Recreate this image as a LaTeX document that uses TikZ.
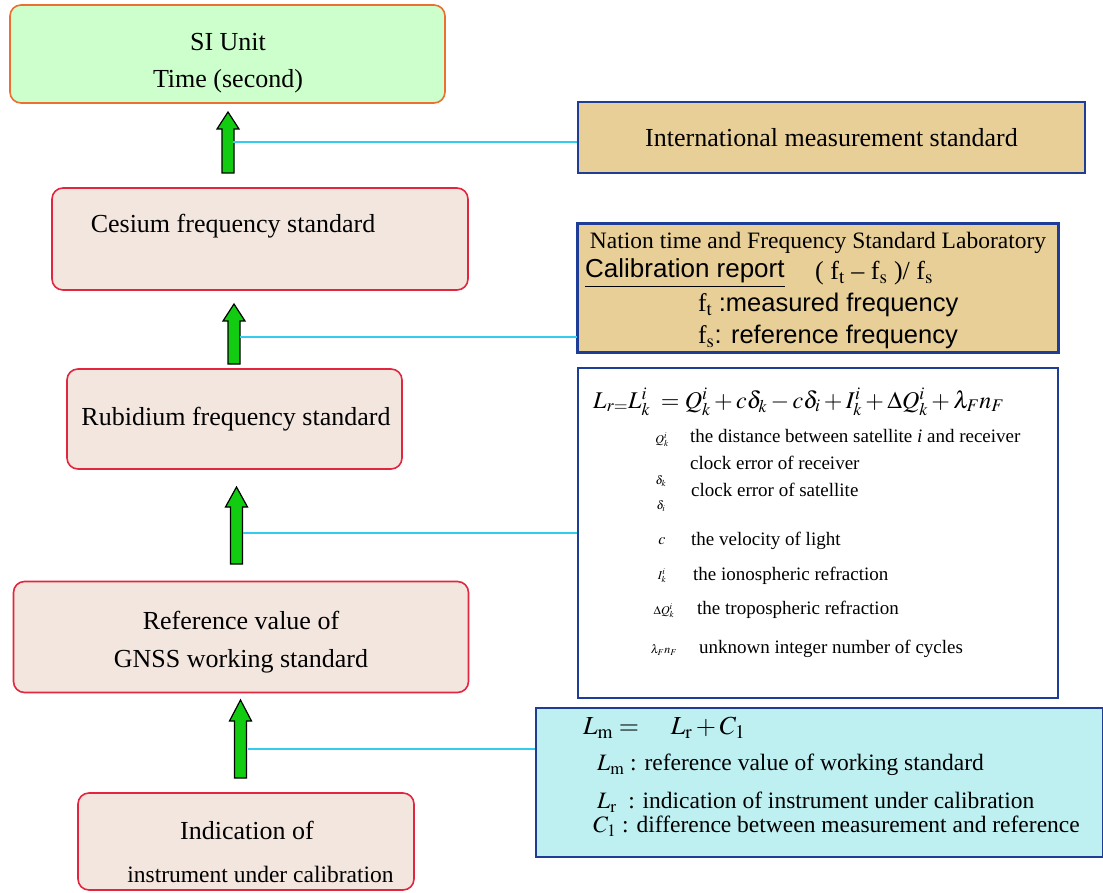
\documentclass[tikz,border=0pt]{standalone}
\usepackage{mathptmx}
\usepackage{fontspec}
\setmainfont{Liberation Serif}
\newfontfamily\arialf{Liberation Sans}
\usetikzlibrary{calc}
\definecolor{sigreen}{HTML}{CCFFCC}
\definecolor{siorange}{HTML}{E9702E}
\definecolor{boxfill}{HTML}{F3E6DF}
\definecolor{boxred}{HTML}{E3263F}
\definecolor{tanfill}{HTML}{E8CF97}
\definecolor{darkblue}{HTML}{1E3D96}
\definecolor{cyanfill}{HTML}{BEF0F2}
\definecolor{linkcyan}{HTML}{33CCEE}
\definecolor{arrgreen}{HTML}{11CC11}
\newcommand{\fs}[1]{\fontsize{#1}{#1}\selectfont}
\begin{document}
\begin{tikzpicture}[x=1pt,y=-1pt,
  stdbox/.style={draw=boxred, line width=1.6pt, fill=boxfill, rounded corners=11pt, inner sep=0pt},
  sibox/.style={draw=siorange, line width=1.6pt, fill=sigreen, rounded corners=11pt, inner sep=0pt},
  infobox/.style={draw=darkblue, line width=1.8pt, inner sep=0pt},
  lbl/.style={inner sep=0pt, anchor=center, font=\fs{26}},
  link/.style={draw=linkcyan, line width=1.3pt},
  garrow/.style={draw=black, line width=1.2pt, fill=arrgreen, line join=miter},
  txt/.style={inner sep=0pt, anchor=west},
  legsym/.style={inner sep=0pt, anchor=center, font=\fs{12}},
  legtxt/.style={inner sep=0pt, anchor=west, font=\fs{19}}
]
\useasboundingbox (0,0) rectangle (1103,893);

% left column boxes
\node[sibox, minimum width=435pt, minimum height=98pt] (si) at (227.5,54) {};
\node[lbl] (si1) at (228,42) {SI Unit};
\node[lbl] (si2) at (228,81) {Time (second)};
\node[stdbox, minimum width=416pt, minimum height=102pt] (cs) at (260,239) {};
\node[lbl] (cst) at (233,226) {Cesium frequency standard};
\node[stdbox, minimum width=335pt, minimum height=100pt] (rb) at (234.5,419) {};
\node[lbl] (rbt) at (236,419) {Rubidium frequency standard};
\node[stdbox, minimum width=455pt, minimum height=111pt] (gn) at (241,637) {};
\node[lbl] (gn1) at (241,620) {Reference value of};
\node[lbl] (gn2) at (241,661) {GNSS working standard};
\node[stdbox, minimum width=336pt, minimum height=97pt] (ind) at (246,841.5) {};
\node[lbl] (ind1) at (247,830) {Indication of};
\node[lbl, font=\fs{23.5}] (ind2) at (260.5,874) {instrument under calibration};

% right column boxes
\node[infobox, fill=tanfill, minimum width=507pt, minimum height=71pt, font=\fs{26}] (intl) at (831.5,137.5) {International measurement standard};

\node[infobox, fill=tanfill, minimum width=480pt, minimum height=128pt] (lab) at (818,288) {};
\begin{scope}
\clip (lab.south west) rectangle (lab.north east);
\node[inner sep=0pt, font=\fs{23.5}] (labt) at (818,243) {Nation time and Frequency Standard Laboratory};
\node[txt, font=\arialf\fs{26}] (calr) at (585,273) {\underline{Calibration report}};
\node[txt, font=\fs{26}] (calf) at (815,273) {( f$_\mathrm{t}$ -- f$_\mathrm{s}$ )/ f$_\mathrm{s}$};
\node[txt, font=\fs{25.5}] (ft) at (698,305) {f$_\mathrm{t}$ \arialf :measured frequency};
\node[txt, font=\fs{25.5}] (fsr) at (698,337) {f$_\mathrm{s}$\arialf : reference frequency};
\end{scope}
\draw[darkblue, line width=1.8pt] (lab.south west) rectangle (lab.north east);

\node[infobox, fill=white, minimum width=480pt, minimum height=330pt] (gnss) at (818,533) {};
\node[txt, font=\fs{24}] (eq) at (593,402) {$L_{r=}L_k^i \;=Q_k^i+c\delta_k-c\delta_i+I_k^i+\Delta Q_k^i+\lambda_F n_F$};
\node[legsym] (s1) at (662,440) {$Q_k^i$};
\node[legtxt] (t1) at (690,436) {the distance between satellite \textit{i} and receiver};
\node[legtxt] (t2) at (690,463) {clock error of receiver};
\node[legsym] (s2) at (661,481) {$\delta_k$};
\node[legtxt] (t3) at (691,490) {clock error of satellite};
\node[legsym] (s3) at (661,506) {$\delta_i$};
\node[legsym, font=\fs{16}] (s4) at (662,541) {$c$};
\node[legtxt] (t4) at (691,541) {the velocity of light};
\node[legsym] (s5) at (662,576) {$I_k^i$};
\node[legtxt] (t5) at (693,576) {the ionospheric refraction};
\node[legsym] (s6) at (664,611) {$\Delta Q_k^i$};
\node[legtxt] (t6) at (697,610) {the tropospheric refraction};
\node[legsym] (s7) at (664,650) {$\lambda_F n_F$};
\node[legtxt] (t7) at (699,649) {unknown integer number of cycles};

\node[infobox, fill=cyanfill, minimum width=567pt, minimum height=149pt] (cal) at (819.5,782.5) {};
\node[txt, font=\fs{26}] (lm) at (583,728) {$L_\mathrm{m} = \quad L_\mathrm{r} + C_1$};
\node[txt, font=\fs{23.5}] (l1) at (597,765) {$L_\mathrm{m}$ : reference value of working standard};
\node[txt, font=\fs{23.5}] (l2) at (597,802) {$L_\mathrm{r}$ \ : indication of instrument under calibration};
\node[txt, font=\fs{23.5}] (l3) at (593,826) {$C_1$ : difference between measurement and reference};

% green block arrows
\newcommand{\gar}[5]{% cx, tip, base, bottom, name
  \coordinate (#5) at (#1,#2);
  \filldraw[garrow] (#1,#2) -- (#1+11,#3) -- (#1+6,#3) -- (#1+6,#4) -- (#1-6,#4) -- (#1-6,#3) -- (#1-11,#3) -- cycle;
}
\gar{228}{112}{129}{173}{a1}
\gar{234}{304}{321}{364}{a2}
\gar{236.5}{487}{507}{564}{a3}
\gar{240.5}{700}{721}{778}{a4}

% cyan links
\coordinate (c1) at ($(a1)+(5,30)$);
\coordinate (c2) at ($(a2)+(6,33)$);
\coordinate (c3) at ($(a3)+(6.5,46)$);
\coordinate (c4) at ($(a4)+(7,49)$);
\draw[link] (c1) -- (c1 -| intl.west);
\draw[link] (c2) -- (c2 -| lab.west);
\draw[link] (c3) -- (c3 -| gnss.west);
\draw[link] (c4) -- (c4 -| cal.west);
\end{tikzpicture}
\end{document}
